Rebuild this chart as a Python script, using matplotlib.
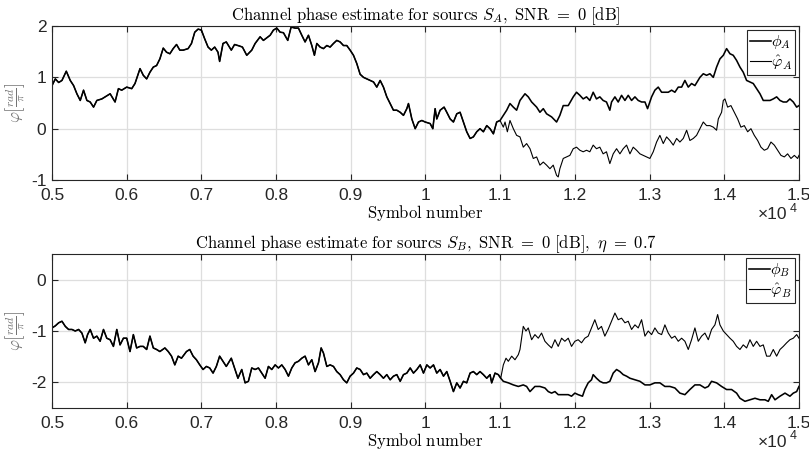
#!/usr/bin/env python3
from __future__ import annotations

import matplotlib

matplotlib.use("Agg")
import matplotlib.pyplot as plt
from matplotlib.ticker import FuncFormatter

# Source A: phase read off the common trace, then true phase and estimate after they split
a_shared_sym = [
    5000, 5044, 5089, 5133, 5191, 5244, 5289, 5333, 5378, 5422, 5467, 5511, 5556, 5600, 5667,
    5711, 5778, 5844, 5889, 5933, 6000, 6067, 6111, 6178, 6222, 6267, 6311, 6356, 6400, 6444,
    6489, 6533, 6578, 6622, 6667, 6711, 6756, 6822, 6867, 6911, 6956, 7000, 7044, 7089, 7133,
    7178, 7222, 7244, 7289, 7333, 7400, 7444, 7511,
    7549, 7607, 7674, 7719, 7786, 7830, 7875, 7920, 7964, 8009, 8054, 8098, 8156, 8201, 8254,
    8299, 8344, 8388, 8433, 8478, 8513, 8545, 8589, 8634, 8679, 8723, 8768, 8812, 8857, 8902,
    8946, 8991, 9036, 9080, 9125, 9170, 9214, 9259, 9304, 9348, 9393, 9437, 9482, 9527, 9571,
    9616, 9661, 9705, 9750, 9772, 9817, 9862, 9906, 9951, 9996,
    10062, 10098, 10129, 10151, 10196, 10249, 10285, 10330, 10374, 10419, 10463, 10508, 10552,
    10597, 10641, 10686, 10730, 10775, 10820, 10864, 10909, 10953, 10998,
]
a_shared_val = [
    0.84, 0.97, 0.90, 0.94, 1.12, 0.94, 0.84, 0.68, 0.55, 0.75, 0.55, 0.52, 0.42, 0.55, 0.58,
    0.62, 0.68, 0.52, 0.78, 0.75, 0.81, 0.78, 0.88, 1.17, 1.04, 0.97, 1.10, 1.20, 1.23, 1.36,
    1.57, 1.49, 1.46, 1.56, 1.64, 1.53, 1.53, 1.56, 1.66, 1.88, 1.94, 1.92, 1.75, 1.59, 1.53,
    1.59, 1.49, 1.31, 1.66, 1.69, 1.53, 1.64, 1.61,
    1.59, 1.43, 1.53, 1.66, 1.79, 1.72, 1.77, 1.82, 1.92, 1.96, 1.88, 1.87, 1.72, 1.98, 1.96,
    1.96, 1.82, 1.69, 1.82, 1.62, 1.43, 1.66, 1.59, 1.56, 1.62, 1.59, 1.66, 1.72, 1.69, 1.62,
    1.62, 1.53, 1.43, 1.27, 1.06, 1.00, 0.97, 0.94, 0.91, 0.81, 0.94, 0.81, 0.62, 0.49, 0.36,
    0.36, 0.32, 0.26, 0.39, 0.49, 0.19, 0.00, 0.13, 0.16, 0.13,
    0.10, 0.00, 0.39, 0.19, 0.36, 0.42, 0.32, 0.19, 0.13, 0.29, 0.32, 0.13, -0.06,
    -0.19, -0.16, -0.06, 0.00, -0.06, 0.06, 0.00, -0.10, 0.13, 0.16,
]
phi_a_sym = [
    11042, 11087, 11131, 11176, 11220, 11265, 11332, 11376, 11421, 11488, 11532, 11577, 11621,
    11688, 11755, 11799, 11844, 11911, 11978, 12022, 12067, 12111, 12156, 12200, 12245, 12289,
    12334, 12378, 12423, 12468,
    12491, 12536, 12580, 12625, 12670, 12714, 12759, 12804, 12848, 12893, 12938, 12973, 13027,
    13071, 13116, 13161, 13205, 13250, 13295, 13339, 13384, 13429, 13473, 13518, 13562, 13607,
    13674, 13719, 13763, 13808, 13853, 13897, 13942, 13987, 14031, 14076, 14120, 14165, 14210,
    14254, 14299, 14344, 14388, 14433, 14478, 14522, 14567, 14612, 14656, 14701, 14746, 14790,
    14835, 14879, 14924, 14969, 15000,
]
phi_a_val = [
    0.26, 0.36, 0.49, 0.42, 0.36, 0.55, 0.68, 0.62, 0.52, 0.42, 0.32, 0.39, 0.29,
    0.23, 0.13, 0.26, 0.45, 0.45, 0.62, 0.71, 0.65, 0.58, 0.62, 0.55, 0.71, 0.58,
    0.62, 0.55, 0.52, 0.36,
    0.52, 0.62, 0.52, 0.65, 0.55, 0.65, 0.55, 0.62, 0.55, 0.52, 0.52, 0.39, 0.62,
    0.75, 0.81, 0.71, 0.71, 0.71, 0.75, 0.71, 0.81, 0.81, 0.94, 0.81, 0.88, 0.84,
    1.00, 1.07, 1.04, 1.07, 1.00, 1.20, 1.36, 1.43, 1.56, 1.46, 1.43, 1.33, 1.20,
    1.10, 0.94, 0.91, 0.88, 0.78, 0.68, 0.55, 0.55, 0.55, 0.58, 0.62, 0.55, 0.52,
    0.52, 0.58, 0.52, 0.42, 0.45,
]
est_a_sym = [
    11042, 11065, 11096, 11131, 11176, 11220, 11265, 11309, 11354, 11399, 11443, 11488, 11532,
    11577, 11621, 11666, 11710, 11755, 11777, 11799, 11844, 11889, 11933, 11978, 12022, 12067,
    12111, 12156, 12200, 12245, 12289, 12334, 12378, 12423, 12468,
    12513, 12558, 12603, 12647, 12692, 12737, 12781, 12826, 12871, 12915, 12960, 13004, 13049,
    13094, 13138, 13183, 13228, 13272, 13317, 13362, 13406, 13451, 13496, 13540, 13585, 13629,
    13674, 13719, 13763, 13808, 13853, 13897, 13920, 13964, 13987, 14009, 14045, 14089, 14134,
    14179, 14223, 14268, 14313, 14357, 14402, 14447, 14491, 14536, 14580, 14625, 14670, 14714,
    14759, 14804, 14848, 14893, 14938, 14982, 15000,
]
est_a_val = [
    0.03, 0.13, -0.06, 0.16, 0.00, -0.13, -0.16, -0.36, -0.29, -0.39, -0.58, -0.55, -0.71,
    -0.65, -0.71, -0.78, -0.71, -0.91, -0.94, -0.78, -0.58, -0.55, -0.52, -0.39, -0.36, -0.42,
    -0.45, -0.42, -0.45, -0.32, -0.39, -0.36, -0.49, -0.45, -0.68,
    -0.49, -0.39, -0.49, -0.39, -0.32, -0.49, -0.36, -0.42, -0.49, -0.52, -0.55, -0.58, -0.45,
    -0.26, -0.13, -0.29, -0.16, -0.23, -0.32, -0.19, -0.26, -0.19, -0.03, -0.23, -0.19, -0.13,
    0.00, 0.13, 0.06, 0.06, 0.03, -0.03, 0.19, 0.32, 0.55, 0.58, 0.42, 0.45, 0.32,
    0.19, 0.03, 0.06, -0.06, 0.00, -0.13, -0.23, -0.36, -0.42, -0.39, -0.26, -0.32, -0.42,
    -0.52, -0.55, -0.49, -0.58, -0.52, -0.58, -0.52,
]

# Source B, same layout
b_shared_sym = [
    5000, 5044, 5089, 5133, 5178, 5222, 5267, 5311, 5356, 5400, 5444, 5476, 5511, 5556, 5600,
    5644, 5689, 5733, 5778, 5822, 5867, 5911, 5956, 6000, 6044, 6089, 6133, 6178, 6222, 6267,
    6311, 6356, 6400, 6444, 6511, 6556, 6600, 6644, 6689, 6733, 6800, 6844, 6889, 6933, 6978,
    7022, 7067, 7111, 7156, 7200, 7244, 7289, 7333, 7400, 7444, 7489,
    7540, 7585, 7629, 7674, 7719, 7763, 7808, 7853, 7897, 7942, 7987, 8031, 8076, 8121, 8165,
    8210, 8254, 8299, 8344, 8388, 8433, 8478, 8522, 8567, 8603, 8634, 8679, 8723, 8768, 8812,
    8857, 8902, 8946, 8991, 9036, 9080, 9125, 9170, 9214, 9259, 9304, 9348, 9393, 9437, 9482,
    9527, 9571, 9616, 9661, 9705, 9750, 9795, 9839, 9884, 9929, 9973,
    10018, 10062, 10107, 10151, 10196, 10241, 10285, 10330, 10374, 10419, 10463, 10508, 10552,
    10597, 10641, 10686, 10730, 10775, 10820, 10864, 10886, 10931, 10975, 11007,
]
b_shared_val = [
    -0.94, -0.90, -0.84, -0.81, -0.91, -0.97, -0.97, -1.00, -0.97, -1.04, -1.23, -1.07, -0.97,
    -1.14, -1.10, -1.20, -0.97, -1.14, -1.17, -1.30, -0.97, -1.27, -1.14, -1.14, -1.40, -1.07,
    -1.33, -1.30, -1.30, -1.36, -1.10, -1.33, -1.36, -1.40, -1.33, -1.40, -1.49, -1.66, -1.49,
    -1.53, -1.40, -1.36, -1.49, -1.56, -1.66, -1.75, -1.69, -1.72, -1.82, -1.69, -1.49, -1.59,
    -1.69, -1.53, -1.72, -1.92,
    -1.75, -2.01, -1.98, -1.72, -1.75, -1.72, -1.82, -1.92, -1.69, -1.75, -1.66, -1.72, -1.66,
    -1.75, -1.88, -1.72, -1.62, -1.59, -1.53, -1.49, -1.66, -1.56, -1.79, -1.62, -1.33, -1.43,
    -1.69, -1.66, -1.69, -1.79, -1.85, -1.95, -2.01, -1.88, -1.82, -1.72, -1.75, -1.85, -1.82,
    -1.92, -1.85, -1.79, -1.85, -1.92, -1.85, -1.95, -1.88, -1.85, -1.98, -1.85, -1.82, -1.72,
    -1.82, -1.75, -1.66, -1.82,
    -1.66, -1.72, -1.66, -1.82, -1.75, -1.88, -1.79, -1.98, -2.18, -2.01, -2.11, -1.98, -2.01,
    -1.82, -1.79, -1.85, -1.79, -1.85, -1.92, -1.85, -2.01, -1.82, -1.85, -1.92,
]
phi_b_sym = [
    11042, 11109, 11176, 11243, 11309, 11354, 11399, 11465, 11532, 11599, 11644, 11688, 11733,
    11777, 11844, 11911, 11955, 12000, 12044, 12102, 12133, 12178, 12223, 12245, 12289, 12334,
    12378, 12423, 12468,
    12513, 12558, 12603, 12647, 12692, 12737, 12804, 12871, 12938, 13004, 13071, 13138, 13205,
    13272, 13339, 13406, 13473, 13540, 13607, 13674, 13741, 13786, 13830, 13897, 13964, 14031,
    14098, 14165, 14210, 14277, 14344, 14411, 14478, 14545, 14589, 14634, 14679, 14746, 14813,
    14879, 14924, 14969, 15000,
]
phi_b_val = [
    -1.98, -2.01, -2.05, -2.08, -2.05, -2.08, -2.18, -2.08, -2.08, -2.11, -2.18, -2.21, -2.18,
    -2.24, -2.24, -2.24, -2.27, -2.21, -2.24, -2.27, -2.14, -2.01, -1.95, -1.85, -1.92, -1.98,
    -2.01, -2.01, -1.98,
    -1.82, -1.75, -1.79, -1.85, -1.88, -1.92, -1.95, -1.98, -2.05, -2.05, -2.01, -2.01, -2.08,
    -2.08, -2.11, -2.21, -2.24, -2.14, -2.05, -2.05, -2.11, -2.08, -1.98, -2.01, -2.08, -2.14,
    -2.14, -2.21, -2.31, -2.37, -2.34, -2.31, -2.34, -2.34, -2.37, -2.24, -2.34, -2.27, -2.21,
    -2.27, -2.21, -2.18, -2.08,
]
est_b_sym = [
    11042, 11078, 11109, 11154, 11198, 11243, 11265, 11287, 11309, 11345, 11376, 11421, 11465,
    11510, 11554, 11599, 11644, 11688, 11733, 11777, 11822, 11866, 11911, 11955, 12000, 12044,
    12089, 12133, 12178, 12223, 12267, 12312, 12356, 12401, 12445,
    12491, 12536, 12580, 12625, 12670, 12714, 12759, 12804, 12848, 12893, 12938, 12982, 13027,
    13071, 13116, 13161, 13205, 13250, 13295, 13339, 13384, 13429, 13473, 13518, 13562, 13607,
    13652, 13696, 13741, 13786, 13830, 13875, 13911, 13942, 13987, 14031, 14076, 14120, 14165,
    14210, 14254, 14299, 14344, 14388, 14433, 14478, 14522, 14567, 14612, 14656, 14701, 14746,
    14790, 14835, 14879, 14924, 14969, 15000,
]
est_b_val = [
    -1.66, -1.53, -1.59, -1.49, -1.56, -1.46, -1.36, -1.14, -0.91, -1.00, -0.94, -1.17, -1.07,
    -1.14, -1.04, -1.20, -1.27, -1.33, -1.17, -1.30, -1.14, -1.20, -1.14, -1.30, -1.20, -1.17,
    -1.23, -1.14, -1.10, -0.94, -0.78, -0.97, -0.91, -1.10, -0.97,
    -0.81, -0.65, -0.78, -0.75, -0.84, -0.81, -0.97, -0.88, -0.94, -0.78, -1.10, -1.00, -1.07,
    -0.94, -1.04, -1.07, -0.88, -1.04, -1.14, -1.10, -1.20, -1.14, -1.20, -1.36, -1.17, -0.94,
    -1.20, -1.10, -1.04, -1.17, -0.97, -0.88, -0.68, -0.88, -1.00, -1.07, -1.14, -1.20, -1.30,
    -1.36, -1.27, -1.33, -1.17, -1.30, -1.20, -1.30, -1.27, -1.49, -1.49, -1.36, -1.49, -1.36,
    -1.30, -1.23, -1.17, -1.14, -1.07, -1.14,
]

x_ticks = [5000, 6000, 7000, 8000, 9000, 10000, 11000, 12000, 13000, 14000, 15000]
axis_grey = "0.15"


def _style_axes(ax, ylim, yticks) -> None:
    ax.set_xlim(5000, 15000)
    ax.set_ylim(*ylim)
    ax.set_xticks(x_ticks)
    ax.set_yticks(yticks)
    ax.xaxis.set_major_formatter(FuncFormatter(lambda v, _: f"{v / 1e4:g}"))
    ax.yaxis.set_major_formatter(FuncFormatter(lambda v, _: f"{v:g}"))
    ax.tick_params(direction="in", length=4, width=0.8, top=True, right=True,
                   colors=axis_grey, labelsize=12.5)
    ax.tick_params(axis="x", pad=6)
    ax.tick_params(axis="y", pad=4)
    for lab in ax.get_xticklabels() + ax.get_yticklabels():
        lab.set_fontfamily("Liberation Sans")
    for sp in ax.spines.values():
        sp.set_color(axis_grey)
        sp.set_linewidth(0.8)
    ax.grid(True, color="0.87", linewidth=0.9)
    ax.set_axisbelow(True)
    ax.set_xlabel(r"$\mathrm{Symbol\ number}$", fontsize=12, labelpad=0)
    ax.set_ylabel(r"$\varphi\left[\frac{rad}{\pi}\right]$", fontsize=12, color="0.45", labelpad=2)
    # axis multiplier, drawn by hand in the lower right corner
    ax.text(0.985, -0.225, "×10", transform=ax.transAxes, ha="right", va="center",
            fontsize=12.5, family="Liberation Sans", color=axis_grey)
    ax.text(0.987, -0.185, "4", transform=ax.transAxes, ha="left", va="center",
            fontsize=9, family="Liberation Sans", color=axis_grey)


def _plot_panel(ax, shared_sym, shared_val, phi_sym, phi_val, est_sym, est_val, labels) -> None:
    ax.plot(shared_sym + phi_sym, shared_val + phi_val, color="black", lw=1.15, label=labels[0])
    ax.plot(shared_sym + est_sym, shared_val + est_val, color="black", lw=0.8, label=labels[1])
    leg = ax.legend(loc="upper right", fontsize=11.5, handlelength=1.3, handletextpad=0.0,
                    borderpad=0.2, labelspacing=0.15, borderaxespad=0.25, fancybox=False,
                    framealpha=1.0, edgecolor=axis_grey)
    leg.get_frame().set_linewidth(0.8)


def main() -> None:
    plt.rcParams["mathtext.fontset"] = "cm"
    fig = plt.figure(figsize=(8.09, 4.59), dpi=100)
    ax_a = fig.add_axes([0.0643, 0.6078, 0.9233, 0.3355])
    ax_b = fig.add_axes([0.0643, 0.1111, 0.9233, 0.3355])

    _plot_panel(ax_a, a_shared_sym, a_shared_val, phi_a_sym, phi_a_val, est_a_sym, est_a_val,
                [r"$\phi_A$", r"$\hat{\varphi}_A$"])
    _style_axes(ax_a, (-1, 2), [-1, 0, 1, 2])
    ax_a.set_title(r"$\mathrm{Channel\ phase\ estimate\ for\ sourcs\ }S_A\mathrm{,\ SNR\ =\ 0\ [dB]}$",
                   fontsize=12, pad=4)

    _plot_panel(ax_b, b_shared_sym, b_shared_val, phi_b_sym, phi_b_val, est_b_sym, est_b_val,
                [r"$\phi_B$", r"$\hat{\varphi}_B$"])
    _style_axes(ax_b, (-2.5, 0.5), [-2, -1, 0])
    ax_b.set_title(r"$\mathrm{Channel\ phase\ estimate\ for\ sourcs\ }S_B\mathrm{,\ SNR\ =\ 0\ [dB],\ }"
                   r"\eta\ =\ 0.7$", fontsize=12, pad=4)

    fig.savefig("out.png", dpi=100)
    plt.close(fig)


if __name__ == "__main__":
    main()
